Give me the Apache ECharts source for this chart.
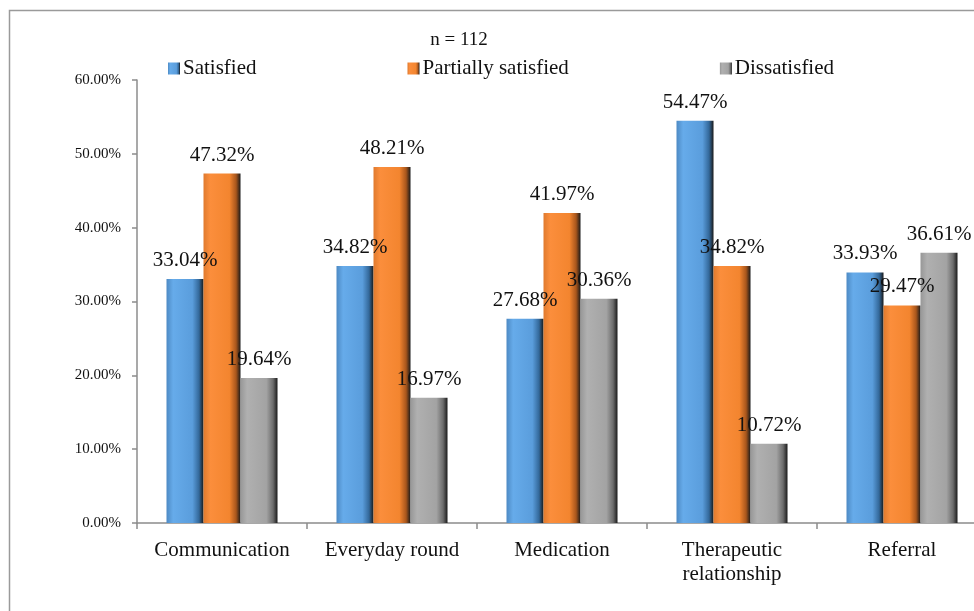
<!DOCTYPE html>
<html>
<head>
<meta charset="utf-8">
<script src="https://cdn.jsdelivr.net/npm/echarts@6/dist/echarts.min.js"></script>
<style>
  html, body { margin: 0; padding: 0; background: #fff; }
  #chart { width: 974px; height: 611px; }
</style>
</head>
<body>
<div id="chart"></div>
<script>
var categories = ["Communication", "Everyday round", "Medication", "Therapeutic\nrelationship", "Referral"];
var seriesNames = ["Satisfied", "Partially satisfied", "Dissatisfied"];
var satisfied = [33.04, 34.82, 27.68, 54.47, 33.93];
var partially = [47.32, 48.21, 41.97, 34.82, 29.47];
var dissatisfied = [19.64, 16.97, 30.36, 10.72, 36.61];
var yTicks = { min: 0, max: 60, interval: 10 };

var serif = "'Liberation Serif', 'DejaVu Serif', serif";

// bevel-ish look: light middle, dark right edge
function bevel(edge, light, mid, dark) {
  return new echarts.graphic.LinearGradient(0, 0, 1, 0, [
    { offset: 0, color: edge },
    { offset: 0.18, color: light },
    { offset: 0.7, color: mid },
    { offset: 0.88, color: dark },
    { offset: 1, color: "#1a1a1a" }
  ]);
}
var fills = [
  bevel("#4d8ac4", "#66abea", "#5a9ddc", "#33689a"),
  bevel("#e07a2e", "#fb8e3c", "#f3852f", "#a8561c"),
  bevel("#979797", "#b0b0b0", "#a3a3a3", "#6c6c6c")
];

function makeSeries(name, data, i) {
  return {
    name: name,
    type: "bar",
    data: data,
    barWidth: 37,
    barGap: "0%",
    itemStyle: { color: fills[i] },
    label: {
      show: true,
      position: "top",
      distance: 8,
      formatter: function (p) { return p.value.toFixed(2) + "%"; },
      fontFamily: serif,
      fontSize: 21,
      color: "#111"
    }
  };
}

var chart = echarts.init(document.getElementById("chart"));
chart.setOption({
  animation: false,
  backgroundColor: "#fff",
  title: {
    text: "n = 112",
    left: 454,
    top: 26,
    textAlign: "center",
    textStyle: { fontFamily: serif, fontSize: 19, fontWeight: "normal", color: "#111" }
  },
  legend: {
    data: seriesNames,
    left: 163,
    top: 53,
    itemWidth: 12,
    itemHeight: 12,
    itemGap: 151,
    icon: "rect",
    textStyle: { fontFamily: serif, fontSize: 21, color: "#111", padding: [0, 0, 0, -2] }
  },
  grid: { left: 137, width: 850, top: 80, bottom: 88, containLabel: false, outerBoundsMode: "none" },
  xAxis: {
    type: "category",
    data: categories,
    axisLine: { lineStyle: { color: "#8c8c8c", width: 1.5 } },
    axisTick: { show: true, length: 6, lineStyle: { color: "#8c8c8c", width: 1.5 } },
    axisLabel: { interval: 0, fontFamily: serif, fontSize: 21, color: "#111", margin: 15, lineHeight: 24 }
  },
  yAxis: {
    type: "value",
    min: yTicks.min,
    max: yTicks.max,
    interval: yTicks.interval,
    axisLine: { show: true, lineStyle: { color: "#8c8c8c", width: 1.5 } },
    axisTick: { show: true, length: 5, lineStyle: { color: "#8c8c8c", width: 1.5 } },
    splitLine: { show: false },
    axisLabel: {
      fontFamily: serif, fontSize: 15, color: "#111", margin: 16,
      formatter: function (v) { return v.toFixed(2) + "%"; }
    }
  },
  graphic: [{
    type: "polyline",
    shape: { points: [[9.5, 611], [9.5, 10.5], [974, 10.5]] },
    style: { stroke: "#9a9a9a", lineWidth: 1.5, fill: null }
  }],
  series: [
    makeSeries(seriesNames[0], satisfied, 0),
    makeSeries(seriesNames[1], partially, 1),
    makeSeries(seriesNames[2], dissatisfied, 2)
  ]
});
window.addEventListener("resize", function () { chart.resize(); });
</script>
</body>
</html>
